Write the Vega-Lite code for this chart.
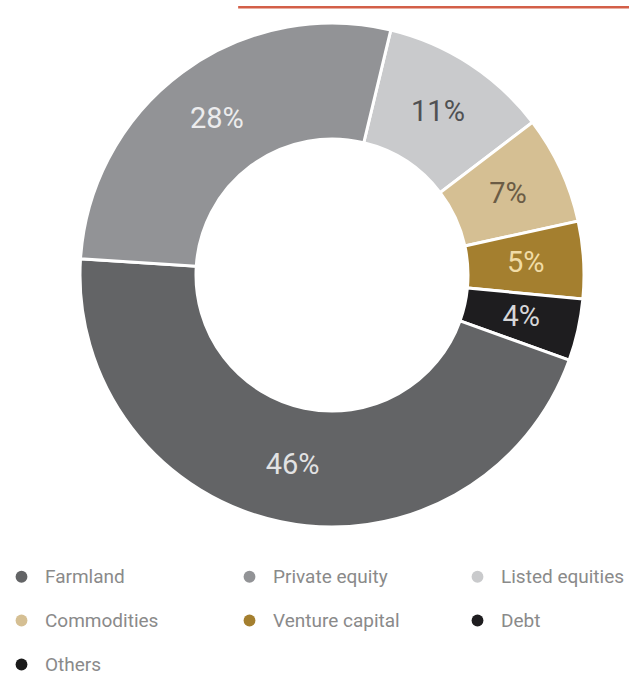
{
  "$schema": "https://vega.github.io/schema/vega-lite/v6.json",
  "autosize": "none",
  "width": 594,
  "height": 550,
  "padding": {"left": 35, "top": 0, "right": 0, "bottom": 126},
  "background": "white",
  "config": {"view": {"stroke": null}, "font": "Roboto"},
  "data": {
    "values": [
      {"category": "Listed equities", "share": 0.11, "rank": 1},
      {"category": "Commodities", "share": 0.07, "rank": 2},
      {"category": "Venture capital", "share": 0.05, "rank": 3},
      {"category": "Debt", "share": 0.04, "rank": 4},
      {"category": "Farmland", "share": 0.46, "rank": 5},
      {"category": "Private equity", "share": 0.28, "rank": 6}
    ]
  },
  "layer": [
    {
      "mark": {"type": "arc", "outerRadius": 252, "innerRadius": 136, "stroke": "white", "strokeWidth": 3},
      "encoding": {
        "theta": {"field": "share", "type": "quantitative", "stack": true, "scale": {"range": [0.2356, 6.5188]}},
        "order": {"field": "rank", "type": "quantitative"},
        "color": {
          "field": "category",
          "type": "nominal",
          "scale": {
            "domain": ["Farmland", "Private equity", "Listed equities", "Commodities", "Venture capital", "Debt", "Others"],
            "range": ["#636466", "#929396", "#c9cacc", "#d5bf93", "#a47f2f", "#1e1d1f", "#1a1a1a"]
          },
          "legend": {
            "title": null,
            "orient": "none",
            "direction": "horizontal",
            "legendX": -23,
            "legendY": 567,
            "columns": 3,
            "gridAlign": "all",
            "columnPadding": 68,
            "rowPadding": 24,
            "padding": 0,
            "symbolType": "circle",
            "symbolSize": 140,
            "symbolStrokeWidth": 0,
            "labelFont": "Roboto",
            "labelFontSize": 19,
            "labelColor": "#8a8a8a",
            "labelOffset": 14,
            "labelLimit": 300
          }
        }
      }
    },
    {
      "mark": {"type": "text", "radius": 194, "fontSize": 29, "font": "Roboto"},
      "encoding": {
        "theta": {"field": "share", "type": "quantitative", "stack": true},
        "order": {"field": "rank", "type": "quantitative"},
        "text": {"field": "share", "type": "quantitative", "format": ".0%"},
        "color": {
          "field": "category",
          "type": "nominal",
          "scale": {
            "domain": ["Farmland", "Private equity", "Listed equities", "Commodities", "Venture capital", "Debt"],
            "range": ["#e2e2e3", "#ececed", "#505153", "#6b5c45", "#f1dca6", "#d6d6d8"]
          },
          "legend": null
        }
      }
    },
    {
      "data": {"values": [{"line": "header"}]},
      "mark": {"type": "rule", "color": "#d35f48", "strokeWidth": 2.5},
      "encoding": {
        "x": {"datum": 0.342, "type": "quantitative", "scale": {"domain": [0, 1]}, "axis": null},
        "x2": {"datum": 1},
        "y": {"datum": 0.987, "type": "quantitative", "scale": {"domain": [0, 1]}, "axis": null}
      }
    }
  ],
  "resolve": {"scale": {"color": "independent"}}
}
